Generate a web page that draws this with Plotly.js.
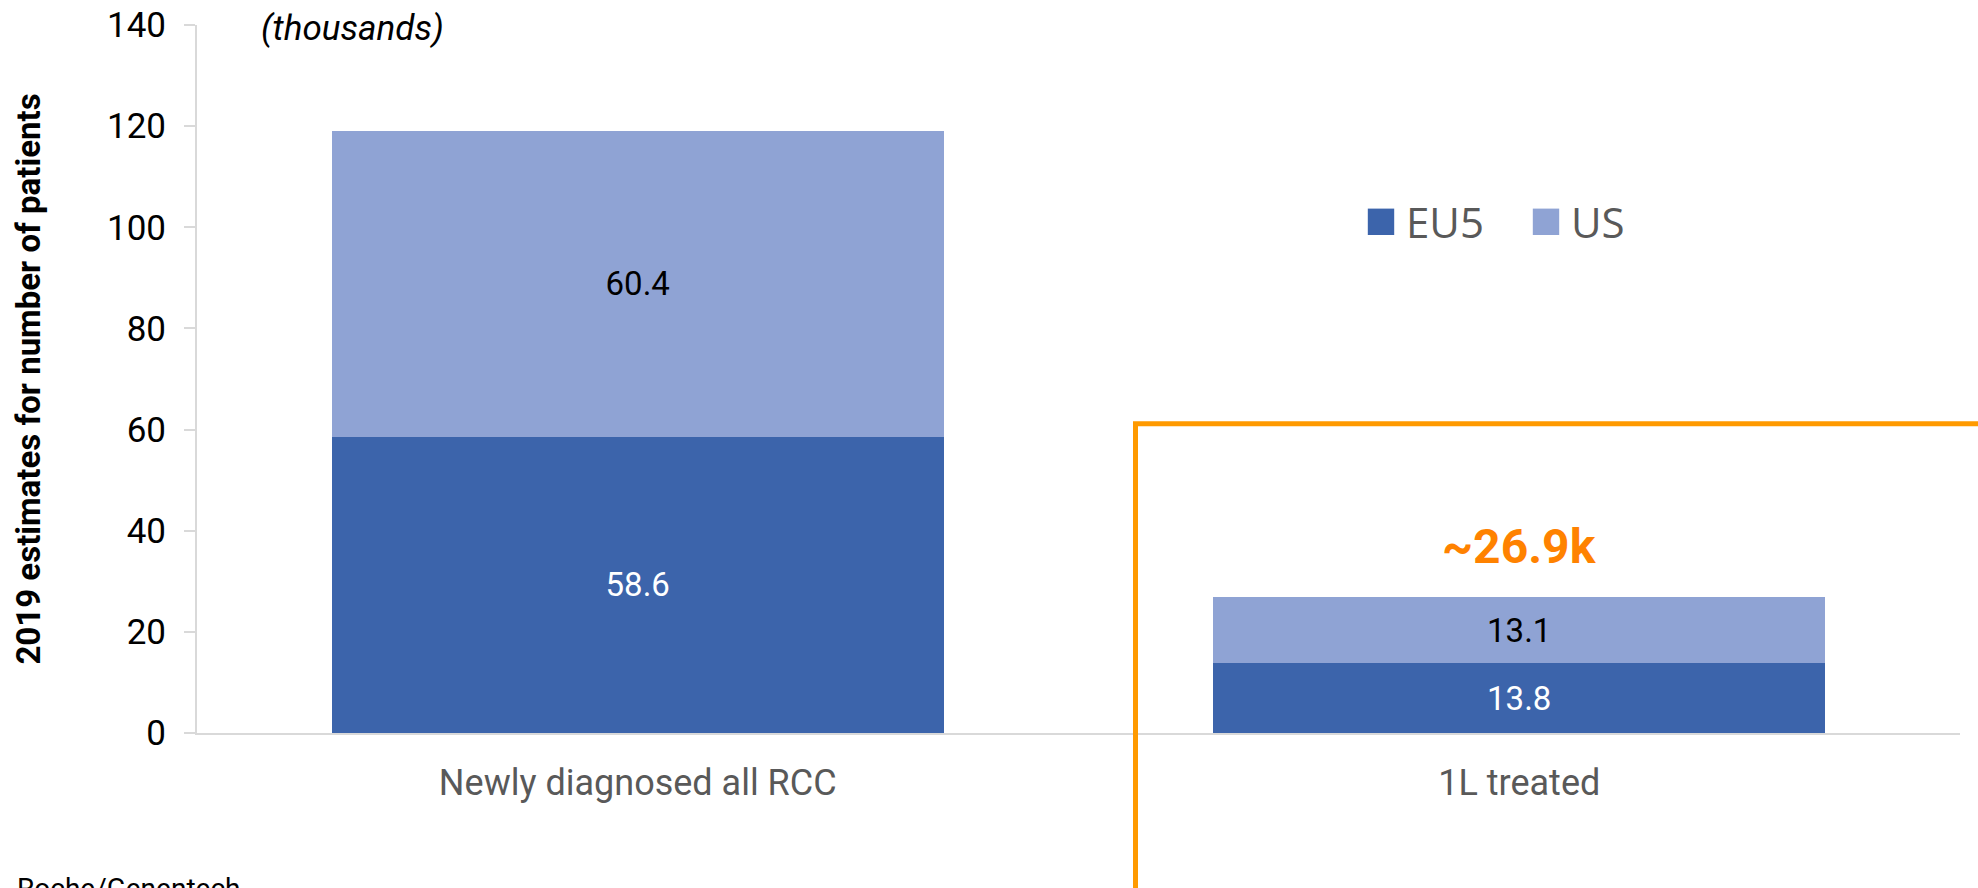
<!DOCTYPE html>
<html>
<head>
<meta charset="utf-8">
<script src="https://cdn.plot.ly/plotly-3.0.1.min.js"></script>
<style>
  html, body { margin: 0; padding: 0; background: #ffffff; }
  #chart { width: 1978px; height: 888px; }
</style>
</head>
<body>
<div id="chart"></div>
<script>
// ---- data ----
const categories = ["Newly diagnosed all RCC", "1L treated"];
const seriesNames = ["EU5", "US"];
const eu5Values = [58.6, 13.8];
const usValues = [60.4, 13.1];
const yTicks = [0, 20, 40, 60, 80, 100, 120, 140];
const unitNote = "(thousands)";
const yTitle = "2019 estimates for number of patients";
const highlightTotal = 26.9;       // shown as "~26.9k" above the 1L treated bar
const sourceNote = "Roche/Genentech";

const FONT = "Roboto, 'Liberation Sans', Arial, sans-serif";
const LEGEND_FONT = "'Open Sans', Roboto, sans-serif";
const colEU5 = "#3C64AB";
const colUS = "#8FA3D4";
const orange = "#FF9A00";

const traces = [
  {
    type: "bar",
    name: seriesNames[0],
    x: categories,
    y: eu5Values,
    marker: { color: colEU5 },
    texttemplate: "%{y:.1f}",
    textposition: "inside",
    insidetextanchor: "middle",
    textangle: 0,
    constraintext: "none",
    textfont: { family: FONT, size: 33, color: "#ffffff" },
    hoverinfo: "skip"
  },
  {
    type: "bar",
    name: seriesNames[1],
    x: categories,
    y: usValues,
    marker: { color: colUS },
    texttemplate: "%{y:.1f}",
    textposition: "inside",
    insidetextanchor: "middle",
    textangle: 0,
    constraintext: "none",
    textfont: { family: FONT, size: 33, color: "#000000" },
    hoverinfo: "skip"
  }
];

const W = 1978, H = 888;
const L = 197, R = 18, T = 25, B = 155;
const plotW = W - L - R, plotH = H - T - B;
const px2x = p => (p - L) / plotW;
const px2y = p => (H - B - p) / plotH;

const layout = {
  width: W,
  height: H,
  margin: { l: L, r: R, t: T, b: B, pad: 0 },
  paper_bgcolor: "#ffffff",
  plot_bgcolor: "#ffffff",
  barmode: "stack",
  bargap: 0.306,
  font: { family: FONT, color: "#000000" },
  showlegend: true,
  legend: {
    orientation: "h",
    x: px2x(1356),
    xanchor: "left",
    y: px2y(222),
    yanchor: "middle",
    font: { family: LEGEND_FONT, size: 42, color: "#595959" },
    bgcolor: "rgba(0,0,0,0)",
    borderwidth: 0,
    traceorder: "normal",
    itemwidth: 40,
    entrywidth: 110,
    entrywidthmode: "pixels"
  },
  xaxis: {
    type: "category",
    categoryorder: "array",
    categoryarray: categories,
    range: [-0.5, 1.5],
    showline: true,
    linecolor: "#d9d9d9",
    linewidth: 2,
    ticks: "",
    showgrid: false,
    zeroline: false,
    tickfont: { family: FONT, size: 36, color: "#595959" },
    ticklabelstandoff: 17,
    fixedrange: true
  },
  yaxis: {
    range: [0, 140],
    tickmode: "array",
    tickvals: yTicks,
    ticktext: yTicks.map(String),
    showline: true,
    linecolor: "#d9d9d9",
    linewidth: 2,
    ticks: "outside",
    ticklen: 11,
    tickwidth: 2,
    tickcolor: "#d9d9d9",
    showgrid: false,
    zeroline: false,
    tickfont: { family: FONT, size: 35, color: "#000000" },
    ticklabelstandoff: 11,
    title: {
      text: yTitle,
      font: { family: FONT, size: 33, color: "#000000", weight: "bold" },
      standoff: 56
    },
    fixedrange: true
  },
  shapes: [
    {
      type: "path",
      xref: "paper",
      yref: "paper",
      path: "M " + px2x(1135.5) + "," + px2y(905) +
            " L " + px2x(1135.5) + "," + px2y(423.7) +
            " L " + px2x(1995) + "," + px2y(423.7),
      line: { color: orange, width: 5 },
      layer: "above"
    }
  ],
  annotations: [
    {
      text: "<i>" + unitNote + "</i>",
      xref: "paper", yref: "paper",
      x: px2x(352), y: px2y(29),
      xanchor: "center", yanchor: "middle",
      showarrow: false,
      font: { family: FONT, size: 35, color: "#000000" }
    },
    {
      text: "<b>~" + highlightTotal.toFixed(1) + "k</b>",
      xref: "x", yref: "y",
      x: categories[1], y: highlightTotal,
      xanchor: "center", yanchor: "middle",
      yshift: 50,
      showarrow: false,
      font: { family: FONT, size: 48, color: "#FF8200" }
    },
    {
      text: sourceNote,
      xref: "paper", yref: "paper",
      x: px2x(15), y: px2y(870),
      xanchor: "left", yanchor: "top",
      showarrow: false,
      font: { family: FONT, size: 28, color: "#000000" }
    }
  ]
};

Plotly.newPlot("chart", traces, layout, { displayModeBar: false, staticPlot: true }).then(function (gd) {
  // enlarge legend swatches to match the reference's larger squares
  document.querySelectorAll("#chart .legendpoints path").forEach(function (p) {
    const t = p.getAttribute("transform") || "";
    p.setAttribute("transform", t + " scale(2.2)");
  });
});
</script>
</body>
</html>
